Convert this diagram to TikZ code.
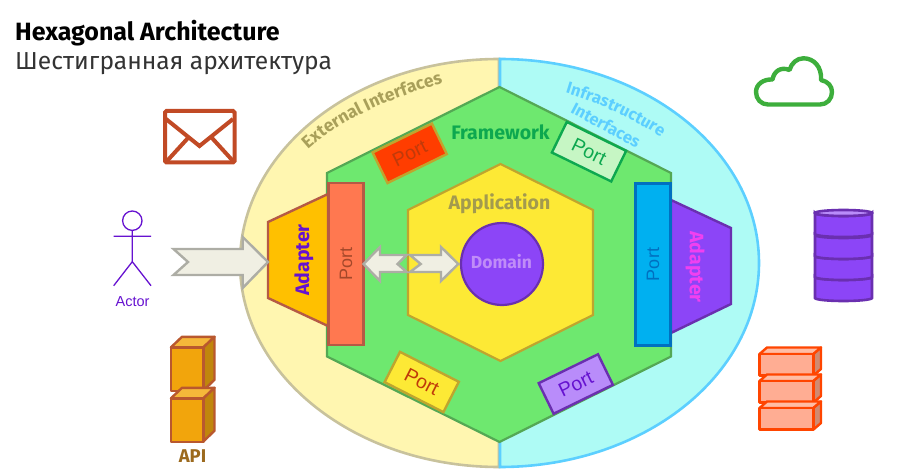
\documentclass[tikz,border=0pt]{standalone}
\usepackage{fontspec}
\setmainfont{Fira Sans}
\newfontfamily\portfont{Liberation Sans}
\usetikzlibrary{decorations.text}
\definecolor{outeryellow}{HTML}{FFF6B0}
\definecolor{outeryellowline}{HTML}{C8C29C}
\definecolor{outercyan}{HTML}{AEFBF5}
\definecolor{outercyanline}{HTML}{5CCFFF}
\definecolor{framegreen}{HTML}{6EE86F}
\definecolor{framegreenline}{HTML}{54A854}
\definecolor{framegreentext}{HTML}{0DA84F}
\definecolor{appyellow}{HTML}{FDE935}
\definecolor{appyellowline}{HTML}{BFA52E}
\definecolor{apptext}{HTML}{A39A4E}
\definecolor{violet}{HTML}{8C45F7}
\definecolor{violetline}{HTML}{6A2FB0}
\definecolor{violettext}{HTML}{C08CF8}
\definecolor{actorviolet}{HTML}{6612D0}
\definecolor{coral}{HTML}{FF7850}
\definecolor{coralline}{HTML}{B55A45}
\definecolor{coraltext}{HTML}{A4482A}
\definecolor{amber}{HTML}{FFC000}
\definecolor{sky}{HTML}{00B0F0}
\definecolor{skyline}{HTML}{0070C0}
\definecolor{magentatext}{HTML}{F040F0}
\definecolor{arrowfill}{HTML}{F0EFE3}
\definecolor{arrowline}{HTML}{ADADA5}
\definecolor{rust}{HTML}{C14A25}
\definecolor{cloudgreen}{HTML}{3DAE3C}
\definecolor{redline}{HTML}{FF4500}
\definecolor{redfront}{HTML}{FFAD93}
\definecolor{redtop}{HTML}{FFBDA5}
\definecolor{redside}{HTML}{D08A70}
\definecolor{orangefront}{HTML}{F2A50C}
\definecolor{orangetop}{HTML}{F5B83A}
\definecolor{orangeside}{HTML}{C0860C}
\definecolor{orangeline}{HTML}{B9582E}
\definecolor{apibrown}{HTML}{9C6A1E}
\definecolor{lightviolet}{HTML}{B98CFA}
\definecolor{palegreen}{HTML}{C6F6C4}
\definecolor{portred}{HTML}{FF3D00}
\definecolor{darkred}{HTML}{C03A0A}
\begin{document}
\begin{tikzpicture}[x=1pt,y=-1pt]
  \tikzset{portbox/.style={draw,line width=2.4pt,minimum width=66pt,minimum height=34pt,inner sep=0pt,font=\portfont\fontsize{19.5}{20}\selectfont},
    bigport/.style={draw,line width=2.6pt,rotate=90,minimum width=162pt,minimum height=35pt,inner sep=0pt,font=\portfont\fontsize{18}{20}\selectfont},
    blockarrow/.style={draw=arrowline,fill=arrowfill,line width=2.4pt},
    hexline/.style={line width=2.2pt},
    label/.style={inner sep=0pt,font=\bfseries\fontsize{19.5}{22}\selectfont},
    redbox/.style={draw=redline,line width=2.4pt,line join=round},
    orangebox/.style={draw=orangeline,line width=2.4pt,line join=round}}
  \useasboundingbox (0,0) rectangle (911,476);
  \node[anchor=base west,inner sep=0pt,font=\bfseries\fontsize{25}{28}\selectfont] (title) at (15,41) {Hexagonal Architecture};
  \node[anchor=base west,inner sep=0pt,text=black!80,font=\fontsize{24.6}{28}\selectfont] (subtitle) at (15,70) {Шестигранная архитектура};
  % outer halves
  \draw[draw=outeryellowline,fill=outeryellow,line width=2.6pt] (499,467) arc[start angle=90,end angle=270,x radius=259,y radius=204] -- cycle;
  \draw[draw=outercyanline,fill=outercyan,line width=2.6pt] (500,467) arc[start angle=90,end angle=-90,x radius=259,y radius=204] -- cycle;
  \path[decorate,decoration={text along path,text align=center,text={|\bfseries\fontsize{17.5}{20}\selectfont\color{apptext!85!outeryellowline}|External Interfaces}}] (302,155) .. controls (335,122) and (390,97) .. (451,81);
  \path[decorate,decoration={text along path,text align=center,text={|\bfseries\fontsize{16.5}{20}\selectfont\color{outercyanline}|Infrastructure}}] (562,92) .. controls (600,103) and (635,120) .. (664,139);
  \node[rotate=-28,inner sep=0pt,text=outercyanline,font=\bfseries\fontsize{16.5}{20}\selectfont] (infrasecond) at (606,125) {Interfaces};
  % hexagons
  \draw[hexline,draw=framegreenline,fill=framegreen] (499.5,87) -- (671,173) -- (671,356.5) -- (499.5,442) -- (327,356.5) -- (327,173) -- cycle;
  \draw[hexline,draw=appyellowline,fill=appyellow] (500.5,164) -- (593,210) -- (593,315) -- (500.5,361) -- (408,315) -- (408,210) -- cycle;
  \node[circle,draw=violetline,fill=violet,line width=2.2pt,minimum size=82pt,inner sep=0pt] (domain) at (502,264) {};
  \node[label,text=violettext,font=\bfseries\fontsize{17.5}{20}\selectfont] (domaintext) at (501.5,262) {Domain};
  \node[label,text=apptext] (application) at (499.5,204) {Application};
  \node[label,text=framegreentext] (framework) at (500.5,132) {Framework};
  % adapters and big ports
  \draw[line width=2.4pt,draw=coralline,fill=amber] (328,194) -- (268,222) -- (268,298) -- (328,326) -- cycle;
  \node[label,rotate=90,text=actorviolet] (adapterleft) at (304,260) {Adapter};
  \draw[line width=2.4pt,draw=violetline,fill=violet] (671,200) -- (731,228) -- (731,304) -- (671,333) -- cycle;
  \node[label,rotate=-90,text=magentatext] (adapterright) at (695,267) {Adapter};
  \node[bigport,draw=coralline,fill=coral,text=coraltext] (portleft) at (346,264) {Port};
  \node[bigport,draw=skyline,fill=sky,text=skyline] (portright) at (653,264.5) {Port};
  % slanted ports
  \node[portbox,rotate=26,draw=appyellowline,fill=portred,text=darkred] (porttl) at (409.7,153.3) {Port};
  \node[portbox,rotate=-26,draw=framegreentext,fill=palegreen,text=framegreentext] (porttr) at (589,151.7) {Port};
  \node[portbox,rotate=-27,draw=appyellowline,fill=appyellow,text=darkred] (portbl) at (421.7,382) {Port};
  \node[portbox,rotate=26,draw=violetline,fill=lightviolet,text=actorviolet] (portbr) at (575.8,384) {Port};
  % block arrows
  \draw[blockarrow] (173.5,249) -- (242.7,249) -- (242.7,237) -- (268,262) -- (242.7,288) -- (242.7,275) -- (173.5,275) -- (188,262) -- cycle;
  \draw[blockarrow] (363.5,264) -- (380,247) -- (380,255) -- (406.7,255) -- (397.5,264) -- (406.7,272) -- (380,272) -- (380,281) -- cycle;
  \draw[blockarrow] (410,255) -- (441,255) -- (441,247) -- (458.3,264) -- (441,281) -- (441,272) -- (410,272) -- (420.7,264) -- cycle;
  % actor
  \draw[actorviolet,line width=1.3pt] (132.3,220.7) circle[radius=9.7];
  \draw[actorviolet,line width=1.3pt] (132.3,230.4) -- (132.3,261.7) (113.7,236.3) -- (151,236.3) (113.7,285.7) -- (132.3,261.7) -- (151,285.7);
  \node[inner sep=0pt,text=actorviolet,font=\portfont\fontsize{14.5}{16}\selectfont] (actor) at (132.5,302) {Actor};
  % envelope
  \draw[rust,line width=4pt,rounded corners=1.5pt] (165,111) rectangle (234.5,162.5);
  \draw[rust,line width=4pt] (166,119) -- (199.5,146) -- (233,119) (167,161) -- (188,138) (233,161) -- (212,138);
  % api stack
  \foreach \boxtop in {347.3,398.3} {
    \draw[orangebox,fill=orangetop] (171,\boxtop) -- ++(11,-10.5) -- ++(32.5,0) -- ++(-11,10.5) -- cycle;
    \draw[orangebox,fill=orangeside] (203.5,\boxtop) -- ++(11,-10.5) -- ++(0,43) -- ++(-11,10.5) -- cycle;
    \draw[orangebox,fill=orangefront] (171,\boxtop) rectangle ++(32.5,43.5);
  }
  \node[inner sep=0pt,text=apibrown,font=\bfseries\fontsize{18.5}{20}\selectfont] (api) at (192.5,456) {API};
  % cloud
  \draw[cloudgreen,line width=4.4pt,line join=round] (768,104.5) -- (820,104.5)
    .. controls (827,104.5) and (832,99) .. (832,92) .. controls (832,86) and (828,81.5) .. (821,80)
    .. controls (822,67) and (814,58.3) .. (803.5,58.3) .. controls (797,58.3) and (791.5,63) .. (789.5,70)
    .. controls (781,66.5) and (774,71) .. (772.5,79.5) .. controls (763,79) and (756,84.5) .. (756,92)
    .. controls (756,99) and (761,104.5) .. (768,104.5) -- cycle;
  % database
  \foreach \segtop in {277,256,235,213} {
    \draw[violetline,fill=violet,line width=2.6pt] (815,\segtop) -- (815,\segtop+21) arc[start angle=180,end angle=0,x radius=28.5,y radius=3] -- (872,\segtop) arc[start angle=0,end angle=180,x radius=28.5,y radius=3] -- cycle;
  }
  \draw[violetline,fill=lightviolet,line width=2.6pt] (843.5,213) ellipse[x radius=28.5,y radius=3];
  % red stack
  \foreach \brickh in {354,381,408} {
    \draw[redbox,fill=redtop] (759.5,\brickh) -- ++(7.5,-6.5) -- ++(54,0) -- ++(-7.5,6.5) -- cycle;
    \draw[redbox,fill=redside] (813.5,\brickh) -- ++(7.5,-6.5) -- ++(0,21.5) -- ++(-7.5,6.5) -- cycle;
    \draw[redbox,fill=redfront] (759.5,\brickh) rectangle ++(54,21.5);
  }
\end{tikzpicture}
\end{document}
